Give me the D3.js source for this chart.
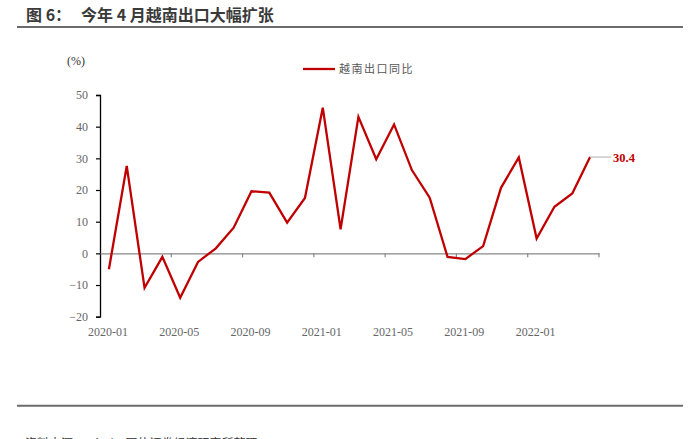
<!DOCTYPE html>
<html><head><meta charset="utf-8">
<script src="https://cdn.jsdelivr.net/npm/d3@7"></script>
<style>body{margin:0;background:#fff}svg{display:block}</style>
</head><body>
<script>
const months = ["2020-01","2020-02","2020-03","2020-04","2020-05","2020-06","2020-07","2020-08","2020-09","2020-10","2020-11","2020-12",
"2021-01","2021-02","2021-03","2021-04","2021-05","2021-06","2021-07","2021-08","2021-09","2021-10","2021-11","2021-12",
"2022-01","2022-02","2022-03","2022-04"];
const exportYoY = [-5.0,27.6,-10.9,-1.1,-14.0,-2.7,1.6,8.1,19.6,19.2,9.7,17.5,
46.0,7.6,43.1,29.7,40.7,26.3,17.6,-1.1,-1.8,2.3,20.7,30.3,
4.7,14.7,18.9,30.4];
const yTicks = [-20,-10,0,10,20,30,40,50];
const seriesName = "越南出口同比";
const titleLabel = "图 6：";
const titleText = "今年 4 月越南出口大幅扩张";
const sourceText = "资料来源：Wind，国信证券经济研究所整理";

const W=695,H=439;
const svg=d3.select("body").append("svg").attr("width",W).attr("height",H);
const serif="'Liberation Serif','Times New Roman',serif";
const cjk="'Noto Sans CJK SC',sans-serif";

const t=svg.append("text").attr("y",20.5).attr("font-family",cjk).attr("font-weight","bold")
  .attr("font-size",16).attr("fill","#3a3a3a");
t.append("tspan").attr("x",26).text(titleLabel);
t.append("tspan").attr("x",81).text(titleText);
svg.append("line").attr("x1",17).attr("x2",683).attr("y1",27).attr("y2",27).attr("stroke","#6b6b6b").attr("stroke-width",2);
svg.append("line").attr("x1",17).attr("x2",683).attr("y1",405.7).attr("y2",405.7).attr("stroke","#6b6b6b").attr("stroke-width",2);
svg.append("text").attr("x",25).attr("y",448).attr("font-family",cjk).attr("font-size",12).attr("fill","#333").text(sourceText);

const x=d3.scaleBand().domain(months).range([100,599]).padding(0);
const y=d3.scaleLinear().domain([-20,50]).range([316.7,95]);

// y axis
const ya=svg.append("g").attr("transform","translate(100,0)")
  .call(d3.axisLeft(y).tickValues(yTicks).tickSize(4).tickPadding(8).tickFormat(d3.format("d")));
ya.select(".domain").attr("stroke","#000").attr("stroke-width",1.3);
ya.selectAll(".tick line").attr("stroke","#000").attr("stroke-width",1.2);
ya.selectAll(".tick text").attr("font-family",serif).attr("font-size",12).attr("fill","#666");

// x axis at zero
const xa=svg.append("g").attr("transform",`translate(0,${y(0)})`)
  .call(d3.axisBottom(x).tickSize(0).tickFormat(""));
xa.select(".domain").attr("stroke","#888").attr("stroke-width",1.3);
const bw=x.bandwidth();
const tickIdx=[4,8,12,16,20,24,28];
svg.append("g").selectAll("line").data(tickIdx).join("line")
  .attr("x1",i=>x.range()[0]+i*bw).attr("x2",i=>x.range()[0]+i*bw)
  .attr("y1",y(0)).attr("y2",y(0)+4).attr("stroke","#888").attr("stroke-width",1.2);
const labelMonths=months.filter((m,i)=>i%4===0);
svg.append("g").selectAll("text").data(labelMonths).join("text")
  .attr("x",m=>x(m)+bw/2-1).attr("y",336).attr("text-anchor","middle")
  .attr("font-family",serif).attr("font-size",12).attr("fill","#666").text(m=>m);

svg.append("text").attr("x",67).attr("y",65).attr("font-family",serif).attr("font-size",12).attr("fill","#333").text("(%)");

// line
const line=d3.line().x((d,i)=>x(months[i])+bw/2).y(d=>y(d));
svg.append("path").datum(exportYoY).attr("d",line).attr("fill","none")
  .attr("stroke","#c00000").attr("stroke-width",2.3).attr("stroke-linejoin","miter");

// annotation
const last=exportYoY.length-1;
const lx=x(months[last])+bw/2, ly=y(exportYoY[last]);
svg.append("line").attr("x1",lx).attr("x2",lx+21).attr("y1",ly).attr("y2",ly).attr("stroke","#bbb").attr("stroke-width",1.2);
svg.append("text").attr("x",lx+23).attr("y",ly+4.5).attr("font-family",serif).attr("font-weight","bold")
  .attr("font-size",12.5).attr("fill","#c00000").text(exportYoY[last].toFixed(1));

// legend
svg.append("line").attr("x1",303).attr("x2",335).attr("y1",69).attr("y2",69).attr("stroke","#c00000").attr("stroke-width",2.3);
svg.append("text").attr("x",339).attr("y",73).attr("font-family",cjk).attr("font-size",11).attr("letter-spacing",1.5)
  .attr("fill","#555").text(seriesName);
</script>
</body></html>
